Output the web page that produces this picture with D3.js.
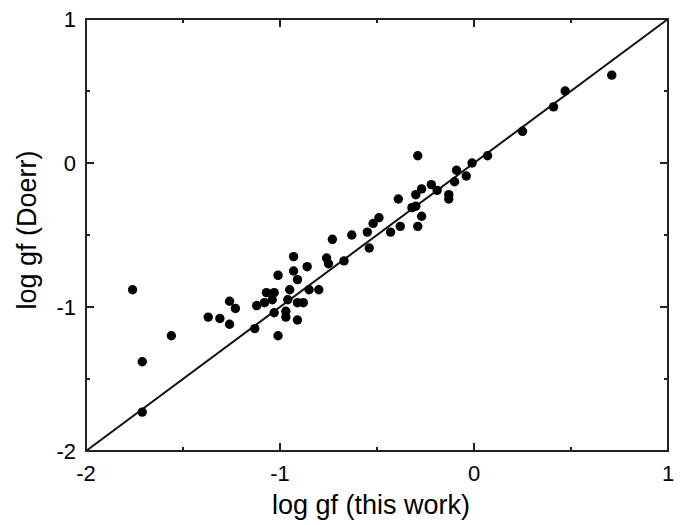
<!DOCTYPE html>
<html>
<head>
<meta charset="utf-8">
<script src="https://cdn.jsdelivr.net/npm/d3@7"></script>
<style>
    body { margin: 0; background: #fff; }
    svg { display: block; font-family: "Liberation Sans", Arial, sans-serif; }
</style>
</head>
<body>
<div id="chart"></div>
<script>
// log gf values
const logGfThisWork = [
    -1.76, -1.71, -1.71, -1.56, -1.37, -1.31, -1.26, -1.23, -1.26, -1.13,
    -1.12, -1.08, -1.07, -1.03, -1.04, -1.01, -1.01, -1.03, -0.97, -0.97,
    -0.96, -0.95, -0.93, -0.93, -0.91, -0.91, -0.88, -0.91, -0.86, -0.85,
    -0.80, -0.76, -0.75, -0.73, -0.67, -0.63, -0.55, -0.52, -0.49, -0.54,
    -0.43, -0.38, -0.39, -0.32, -0.30, -0.30, -0.27, -0.27, -0.29, -0.29,
    -0.22, -0.19, -0.13, -0.13, -0.10, -0.09, -0.04, -0.01, 0.07, 0.25,
    0.41, 0.47, 0.71
]
const logGfDoerr = [
    -0.88, -1.38, -1.73, -1.20, -1.07, -1.08, -0.96, -1.01, -1.12, -1.15,
    -0.99, -0.97, -0.90, -0.90, -0.95, -0.78, -1.20, -1.04, -1.03, -1.07,
    -0.95, -0.88, -0.65, -0.75, -0.81, -0.97, -0.97, -1.09, -0.72, -0.88,
    -0.88, -0.66, -0.70, -0.53, -0.68, -0.50, -0.48, -0.42, -0.38, -0.59,
    -0.48, -0.44, -0.25, -0.31, -0.30, -0.22, -0.18, -0.37, -0.44, 0.05,
    -0.15, -0.19, -0.22, -0.25, -0.13, -0.05, -0.09, 0.00, 0.05, 0.22,
    0.39, 0.50, 0.61
]

const axisDomain = [-2, 1]
const majorTicks = [-2, -1, 0, 1]
const minorTicks = [-1.5, -0.5, 0.5]
const xTitle = "log gf (this work)"
const yTitle = "log gf (Doerr)"

const width = 688
const height = 525
const margin = { left: 86, right: 20, top: 19, bottom: 74 }

const svg = d3.select("#chart").append("svg")
    .attr("width", width)
    .attr("height", height)

const xScale = d3.scaleLinear()
    .domain(axisDomain)
    .range([margin.left, width - margin.right])

const yScale = d3.scaleLinear()
    .domain(axisDomain)
    .range([height - margin.bottom, margin.top])

const x0 = xScale.range()[0], x1 = xScale.range()[1]
const y0 = yScale.range()[0], y1 = yScale.range()[1]

// inward ticks on all four sides
function drawTicks(values, len) {
    values.forEach((v) => {
        const xv = xScale(v), yv = yScale(v)
        svg.append("line").attr("x1", xv).attr("x2", xv).attr("y1", y0).attr("y2", y0 - len)
        svg.append("line").attr("x1", xv).attr("x2", xv).attr("y1", y1).attr("y2", y1 + len)
        svg.append("line").attr("x1", x0).attr("x2", x0 + len).attr("y1", yv).attr("y2", yv)
        svg.append("line").attr("x1", x1).attr("x2", x1 - len).attr("y1", yv).attr("y2", yv)
    })
}
drawTicks(majorTicks, 8)
drawTicks(minorTicks, 4)
svg.selectAll("line").attr("stroke", "#222").attr("stroke-width", 2)

// diagonal 1:1 line
svg.append("path")
    .datum(axisDomain)
    .attr("fill", "none")
    .attr("stroke", "#111")
    .attr("stroke-width", 2)
    .attr("d", d3.line().x((d) => xScale(d)).y((d) => yScale(d)))

// data points
svg.selectAll(".dot")
    .data(d3.range(logGfThisWork.length))
    .join("circle")
    .attr("class", "dot")
    .attr("cx", (i) => xScale(logGfThisWork[i]))
    .attr("cy", (i) => yScale(logGfDoerr[i]))
    .attr("r", 4.7)
    .attr("fill", "#000")

// frame
svg.append("rect")
    .attr("x", x0).attr("y", y1)
    .attr("width", x1 - x0).attr("height", y0 - y1)
    .attr("fill", "none")
    .attr("stroke", "#222")
    .attr("stroke-width", 2)

// tick labels
svg.selectAll(".xlabel")
    .data(majorTicks)
    .join("text")
    .attr("class", "xlabel")
    .attr("x", (d) => xScale(d))
    .attr("y", y0 + 30)
    .attr("text-anchor", "middle")
    .attr("font-size", 22)
    .text((d) => d)

svg.selectAll(".ylabel")
    .data(majorTicks)
    .join("text")
    .attr("class", "ylabel")
    .attr("x", x0 - 10)
    .attr("y", (d) => yScale(d) + 8)
    .attr("text-anchor", "end")
    .attr("font-size", 22)
    .text((d) => d)

// axis titles
svg.append("text")
    .attr("x", 371)
    .attr("y", 514)
    .attr("text-anchor", "middle")
    .attr("font-size", 27)
    .text(xTitle)

svg.append("text")
    .attr("transform", `translate(36, 230) rotate(-90)`)
    .attr("text-anchor", "middle")
    .attr("font-size", 27)
    .text(yTitle)
</script>
</body>
</html>
